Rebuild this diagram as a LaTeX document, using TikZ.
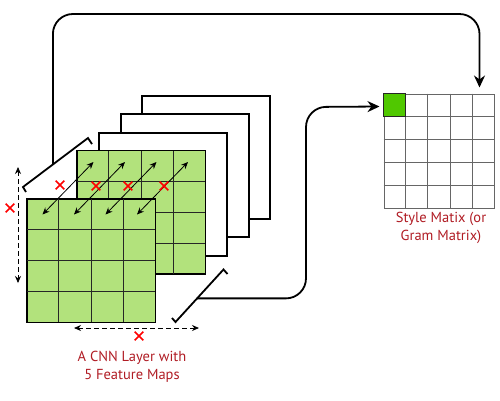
\documentclass[tikz,border=0pt]{standalone}
\usepackage{fontspec}
\setmainfont{PT Sans}
\usetikzlibrary{positioning, calc, shapes.misc, arrows.meta}

\definecolor{mapgreen}{RGB}{178,226,124}
\definecolor{cellgreen}{RGB}{80,200,0}
\definecolor{lblred}{RGB}{176,28,36}

\tikzset{
  frame/.style={draw, line width=1.8pt, fill=white, minimum width=128pt, minimum height=123pt, inner sep=0pt},
  fmap/.style={draw, line width=1pt, fill=mapgreen, minimum width=128pt, minimum height=123pt, inner sep=0pt},
  gridl/.style={line width=1pt, black!85},
  bracket/.style={line width=1.8pt, line join=miter},
  conn/.style={line width=1.8pt, rounded corners=20pt, -{Stealth[length=12pt, width=11pt]}},
  link/.style={line width=0.8pt, {Stealth[length=7pt, width=6pt]}-{Stealth[length=7pt, width=6pt]}},
  dim/.style={line width=0.8pt, dash pattern=on 5pt off 3pt, {Stealth[length=7pt, width=6pt]}-{Stealth[length=7pt, width=6pt]}},
  redx/.style={cross out, draw=red, line width=1.6pt, minimum size=7pt, inner sep=0pt},
  lbl/.style={text=lblred, align=center, font=\fontsize{14.5}{18.5}\selectfont}
}

\begin{document}
\begin{tikzpicture}[x=1pt, y=-1pt]
  \useasboundingbox (0,0) rectangle (500,400);

  % feature maps, back to front
  \node[frame] (fm3) at (206,157.5) {};
  \node[frame] (fm2) at (185,175.5) {};
  \node[frame] (fm1) at (163,194.5) {};
  \node[fmap] (back) at (141,212) {};
  \foreach \i in {1,2,3} {
    \draw[gridl] ($(back.north west)!\i/4!(back.north east)$) -- ($(back.south west)!\i/4!(back.south east)$);
    \draw[gridl] ($(back.north west)!\i/4!(back.south west)$) -- ($(back.north east)!\i/4!(back.south east)$);
  }
  \draw[line width=1pt] (back.north west) rectangle (back.south east);
  \node[fmap] (front) at (91,260.5) {};
  \foreach \i in {1,2,3} {
    \draw[gridl] ($(front.north west)!\i/4!(front.north east)$) -- ($(front.south west)!\i/4!(front.south east)$);
    \draw[gridl] ($(front.north west)!\i/4!(front.south west)$) -- ($(front.north east)!\i/4!(front.south east)$);
  }
  \draw[line width=1pt] (front.north west) rectangle (front.south east);

  % links between the two maps
  \foreach \i in {0,1,2,3}
    \draw[link] ($(front.north west)+(16+31.5*\i,16)$) -- ($(back.north west)+(17+31.5*\i,12)$);

  % style (gram) matrix
  \node[draw, black!60, line width=1pt, minimum width=110pt, minimum height=114pt, inner sep=0pt] (gram) at (439,151) {};
  \fill[cellgreen] (gram.north west) rectangle ($(gram.north west)+(22,22.8)$);
  \foreach \i in {1,...,4} {
    \draw[gridl, black!60] ($(gram.north west)!\i/5!(gram.north east)$) -- ($(gram.south west)!\i/5!(gram.south east)$);
    \draw[gridl, black!60] ($(gram.north west)!\i/5!(gram.south west)$) -- ($(gram.north east)!\i/5!(gram.south east)$);
  }
  \draw[line width=1pt, black!85] (gram.north west) rectangle ($(gram.north west)+(22,22.8)$);

  % brackets
  \draw[bracket] (26,192) -- (23,187) -- coordinate[pos=0.46] (ulb) (88,138) -- (92,144);
  \draw[bracket] (172,318) -- (175.5,322) -- coordinate[pos=0.45] (lrb) (223.5,269.5) -- (227.5,274);

  % connectors
  \coordinate (top) at (0,14);
  \coordinate (gtop) at ($(gram.north east)+(-15,-6)$);
  \coordinate (gleft) at ($(gram.north west)+(-4,13)$);
  \draw[conn] (ulb) -- (ulb |- top) -| (gtop);
  \draw[conn] (lrb) -| (306,107) -- (gleft);

  % dimensions
  \draw[dim] (18,167) -- (18,283);
  \draw[dim] (74,328) -- (199,328);

  % crosses
  \node[redx] (x1) at (60,185) {};
  \node[redx] (x2) at (96,186) {};
  \node[redx] (x3) at (128,186) {};
  \node[redx] (x4) at (164,186) {};
  \node[redx] (xh) at (10,208) {};
  \node[redx] (xw) at (139,336) {};

  % labels
  \node[lbl] (cnnlbl) at (132,367) {A CNN Layer with\\5 Feature Maps};
  \node[lbl] (gramlbl) at (441,228) {Style Matix (or\\Gram Matrix)};
\end{tikzpicture}
\end{document}
